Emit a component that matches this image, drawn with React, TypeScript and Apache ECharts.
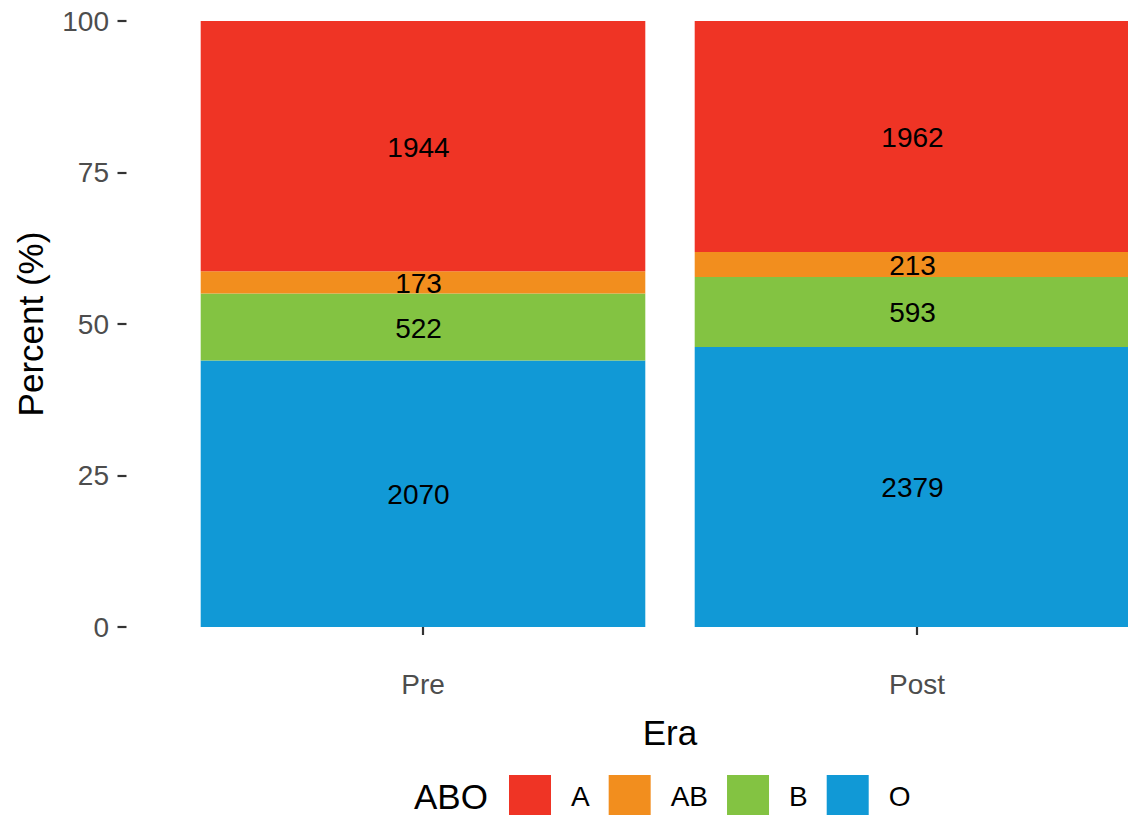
import React, { useEffect, useRef } from "react";
import * as echarts from "echarts";

const eras = ["Pre", "Post"];
const groups = ["A", "AB", "B", "O"];
const countsA = [1944, 1962];
const countsAB = [173, 213];
const countsB = [522, 593];
const countsO = [2070, 2379];
const colors: Record<string, string> = {
  A: "#EF3425",
  AB: "#F28E1E",
  B: "#83C342",
  O: "#1199D6",
};
const yTicks = [0, 25, 50, 75, 100];

const countsBy: Record<string, number[]> = { A: countsA, AB: countsAB, B: countsB, O: countsO };

export default function App() {
  const ref = useRef<HTMLDivElement>(null);
  useEffect(() => {
    if (!ref.current) return;
    const chart = echarts.init(ref.current, null, { renderer: "svg" });
    const totals = eras.map((_, i) => groups.reduce((s, g) => s + countsBy[g][i], 0));
    const stackOrder = ["O", "B", "AB", "A"];
    const font = "Liberation Sans, Arial, sans-serif";
    const series = stackOrder.map((g) => ({
      name: g,
      type: "bar",
      stack: "total",
      barWidth: "90%",
      itemStyle: { color: colors[g] },
      data: countsBy[g].map((c, i) => ({ value: (c / totals[i]) * 100, count: c })),
      label: {
        show: true,
        position: "inside",
        offset: [-4.5, 1],
        color: "#000",
        fontSize: 28,
        fontFamily: font,
        formatter: (p: any) => String(p.data.count),
      },
    }));
    chart.setOption({
      animation: false,
      textStyle: { fontFamily: font },
      grid: { left: 176, width: 988, top: 21, height: 606, containLabel: false, outerBoundsMode: "none" },
      legend: {
        data: groups,
        left: 509,
        top: 775,
        padding: 0,
        itemWidth: 42,
        itemHeight: 42,
        itemGap: 19,
        icon: "rect",
        selectedMode: false,
        textStyle: { fontSize: 28, color: "#000", padding: [0, 0, 0, 15], fontFamily: font },
      },
      graphic: [
        {
          type: "text",
          x: 414,
          y: 796,
          style: { text: "ABO", fontSize: 35, fill: "#000", fontFamily: font, textVerticalAlign: "middle" },
        },
      ],
      xAxis: {
        type: "category",
        data: eras,
        offset: 30,
        axisLine: { show: false },
        axisTick: { show: true, alignWithLabel: true, length: 8, lineStyle: { color: "#333", width: 2.2 } },
        axisLabel: { color: "#4D4D4D", fontSize: 28, margin: 13, fontFamily: font },
        name: "Era",
        nameLocation: "middle",
        nameGap: 58,
        nameTextStyle: { fontSize: 35, color: "#000", fontFamily: font },
      },
      yAxis: {
        type: "value",
        min: 0,
        max: 100,
        interval: 25,
        offset: 49.5,
        axisLine: { show: false },
        splitLine: { show: false },
        axisTick: { show: true, length: 9, lineStyle: { color: "#333", width: 2.2 } },
        axisLabel: {
          color: "#4D4D4D",
          fontSize: 28,
          margin: 17.5,
          fontFamily: font,
          formatter: (v: number) => (yTicks.includes(v) ? String(v) : ""),
        },
        name: "Percent (%)",
        nameLocation: "middle",
        nameGap: 79,
        nameTextStyle: { fontSize: 35, color: "#000", fontFamily: font },
      },
      series,
    });
    return () => chart.dispose();
  }, []);
  return (
    <div
      ref={ref}
      style={{ position: "fixed", left: 0, top: 0, width: 1128, height: 815, background: "#fff" }}
    />
  );
}
